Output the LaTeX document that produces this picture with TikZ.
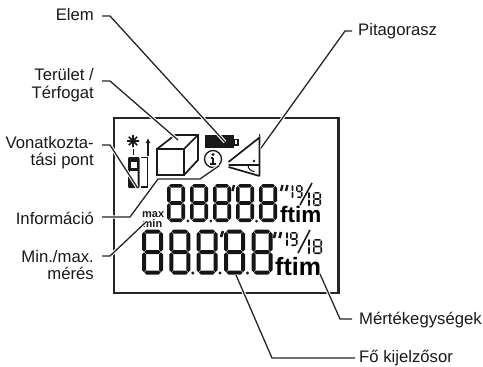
\documentclass[tikz,border=0pt]{standalone}
\usepackage{fontspec}
\usetikzlibrary{arrows.meta}
\setmainfont{Liberation Sans}
\newcommand{\segH}[4]{\fill[black!92] (#1,#3)--(#1+#4,#3-#4)--(#2-#4,#3-#4)--(#2,#3)--(#2-#4,#3+#4)--(#1+#4,#3+#4)--cycle;}
\newcommand{\segV}[4]{\fill[black!92] (#1,#2)--(#1+#4,#2+#4)--(#1+#4,#3-#4)--(#1,#3)--(#1-#4,#3-#4)--(#1-#4,#2+#4)--cycle;}
\newcommand{\digitsetup}[5]{%
\pgfmathsetmacro{\tt}{#5/2}\pgfmathsetmacro{\gg}{0.3}%
\pgfmathsetmacro{\LL}{#1+\tt}\pgfmathsetmacro{\RR}{#1+#3-\tt}%
\pgfmathsetmacro{\TT}{#2+\tt}\pgfmathsetmacro{\MM}{#2+#4/2}\pgfmathsetmacro{\BB}{#2+#4-\tt}%
\pgfmathsetmacro{\LLi}{\LL+\gg}\pgfmathsetmacro{\RRi}{\RR-\gg}%
\pgfmathsetmacro{\TTi}{\TT+\gg}\pgfmathsetmacro{\MMa}{\MM-\gg}\pgfmathsetmacro{\MMb}{\MM+\gg}\pgfmathsetmacro{\BBi}{\BB-\gg}%
\segH{\LLi}{\RRi}{\TT}{\tt}\segH{\LLi}{\RRi}{\MM}{\tt}\segH{\LLi}{\RRi}{\BB}{\tt}%
\segV{\LL}{\TTi}{\MMa}{\tt}\segV{\RR}{\TTi}{\MMa}{\tt}\segV{\RR}{\MMb}{\BBi}{\tt}}
\newcommand{\digiteight}[5]{\digitsetup{#1}{#2}{#3}{#4}{#5}\segV{\LL}{\MMb}{\BBi}{\tt}}
\newcommand{\digitone}[4]{\pgfmathsetmacro{\tt}{#4/2}\pgfmathsetmacro{\MMa}{#2+#3/2-0.3}\pgfmathsetmacro{\MMb}{#2+#3/2+0.3}\pgfmathsetmacro{\EE}{#2+#3}%
\segV{#1}{#2}{\MMa}{\tt}\segV{#1}{\MMb}{\EE}{\tt}}
\tikzset{
 lab/.style={font=\fontsize{16.7}{17.6}\selectfont,align=right,inner sep=0pt,text=black!90},
 leader/.style={line width=1.3pt,draw=black!85,preaction={draw=white,line width=3.4pt,line cap=butt}},
 lcd/.style={line width=2.1pt,draw=black!85},
 icon/.style={line width=1.7pt,draw=black!90},
 unit/.style={font=\bfseries\fontsize{22.5}{22.5}\selectfont,inner sep=0pt,text=black},
 unitb/.style={font=\bfseries\fontsize{25}{25}\selectfont,inner sep=0pt,text=black},
 tiny/.style={font=\bfseries\fontsize{11}{11}\selectfont,inner sep=0pt,align=left,text=black!90},
}
\begin{document}
\begin{tikzpicture}[x=1pt,y=-1pt]
\useasboundingbox (0,0) rectangle (483,367);
% frame
\draw[lcd] (114,118) rectangle (338.5,293);
% cube
\draw[icon] (157,149) rectangle (184,175);
\draw[icon] (157,149)--(175,135)--(198,135)--(198,160)--(184,175) (184,149)--(198,135);
% battery
\draw[icon,fill=black!90] (205.5,136)rectangle(233,147);
\draw[line width=1.1pt,draw=black!90] (234,139.5) rectangle (238,145);
% info
\node[circle,draw=black!90,line width=1.3pt,minimum size=17pt,inner sep=0pt] (info) at (213,159) {};
\fill[black!90] (213,154.5) circle (1.6pt);
\draw[line width=2.4pt,black!90] (213,157.5)--(213,164);
\draw[line width=1.1pt,black!90] (210.5,158)--(213,158) (210,164)--(216,164);
% triangle
\draw[icon] (228.5,162)--(259.5,137.5)--(259.5,176) (228.5,165)--(259.5,165) (228.5,167)--(259.5,176);
\draw[line width=1pt,black!90] (259.5,136)--(259.5,134);
\draw[line width=1pt,black!90] (248,165) arc (180:90:6.5);
\fill[black!90] (254,161) circle (1.4pt);
% device
\draw[line width=1.6pt,black!90] (133,135)--(133,147) (127,141)--(139,141) (128.8,136.8)--(137.2,145.2) (128.8,145.2)--(137.2,136.8);
\draw[line width=1.5pt,black!90] (133.5,149)--(133.5,155);
\fill[black!90,rounded corners=1.2pt] (128,157) rectangle (139.5,188);
\fill[white] (130.5,161.5) rectangle (137,168);
\fill[white] (130,171)--(137.5,171)--(137.5,186)--(136,186)--(130,174)--cycle;
\draw[line width=1.4pt,black!90] (140.5,157.5)--(147.5,157.5)--(147.5,187)--(140.5,187);
\draw[line width=1.1pt,black!90,-{Latex[length=5pt,width=5pt]}] (148,156)--(148,138);
% top row digits
\foreach \x in {167,190,213,236,259}{\digiteight{\x}{184}{18}{38}{3.6}}
\fill[black!90] (187.8,221) circle (1.5pt) (210.8,221) circle (1.5pt) (256.5,221) circle (1.5pt);
\draw[line width=2.4pt,black!90] (234,185)--(232.5,191);
\draw[line width=2.4pt,black!90] (282.5,185)--(281,191) (287.5,185)--(286,191);
% bottom row digits
\foreach \x in {142,169.3,196.5,224,251.5}{\digiteight{\x}{229.5}{21}{45}{4}}
\fill[black!90] (192.8,273) circle (1.7pt) (220,273) circle (1.7pt) (247.5,273) circle (1.7pt);
\draw[line width=2.6pt,black!90] (223,231)--(221,237);
\draw[line width=2.6pt,black!90] (275.5,232)--(274,238) (281,232)--(279.5,238);
% fractions top
\digitone{292.5}{185}{13}{1.6}
\digitsetup{296}{185}{6.5}{13}{1.6}
\draw[line width=1.6pt,black!90] (312,183)--(300,205);
\digitone{309}{192}{14}{1.6}
\digiteight{313}{192}{8}{14}{1.7}
% fractions bottom
\digitone{287}{232}{14}{1.6}
\digitsetup{290}{232}{7.5}{14}{1.6}
\draw[line width=1.6pt,black!90] (310,230)--(298,253);
\digitone{309}{239}{15}{1.6}
\digiteight{313}{239}{9}{15}{1.7}
% units
\node[unit,anchor=base west] (ft1) at (280,222) {ftim};
\node[unitb,anchor=base west] (ft2) at (275,275) {ftim};
\node[tiny,anchor=base west] (mx) at (142,217) {max};
\node[tiny,anchor=base west] (mn) at (142.5,227) {min};
% labels
\node[lab,anchor=east] (elem) at (94,15) {Elem};
\node[lab,anchor=east] (ter) at (94,85) {Terület /\\Térfogat};
\node[lab,anchor=east] (von) at (94,152.5) {Vonatkozta-\\tási pont};
\node[lab,anchor=east] (inf) at (94,218) {Információ};
\node[lab,anchor=east] (minm) at (94,265) {Min./max.\\mérés};
\node[lab,anchor=west] (pit) at (358,31) {Pitagorasz};
\node[lab,anchor=west] (mer) at (359,320) {Mértékegységek};
\node[lab,anchor=west] (fo) at (359,358.5) {Fő kijelzősor};
% leader ends
\coordinate (e1) at (102,16); \coordinate (e2) at (110,16); \coordinate (e3) at (225,142);
\coordinate (t1) at (102,81); \coordinate (t2) at (110,81); \coordinate (t3) at (178,140);
\coordinate (v1) at (102,145); \coordinate (v2) at (110,145); \coordinate (v3) at (137,187);
\coordinate (i1) at (102,217); \coordinate (i2) at (130,217); \coordinate (i3) at (158,179); \coordinate (i4) at (200,179); \coordinate (i5) at (info.south east);
\coordinate (m1) at (102,256); \coordinate (m2) at (110,256); \coordinate (m3) at (146,222);
\coordinate (p1) at (352,31); \coordinate (p2) at (345,31); \coordinate (p3) at (261,148);
\coordinate (u1) at (352,319); \coordinate (u2) at (340,319); \coordinate (u3) at (320,274);
\coordinate (f1) at (355,358); \coordinate (f2) at (272,358); \coordinate (f3) at (236,275);
\draw[leader] (e1)--(e2)--(e3);
\draw[leader] (t1)--(t2)--(t3);
\draw[leader] (v1)--(v2)--(v3);
\draw[leader] (i1)--(i2)--(i3)--(i4)--(i5);
\draw[leader] (m1)--(m2)--(m3);
\draw[leader] (p1)--(p2)--(p3);
\draw[leader] (u1)--(u2)--(u3);
\draw[leader] (f1)--(f2)--(f3);
\end{tikzpicture}
\end{document}
